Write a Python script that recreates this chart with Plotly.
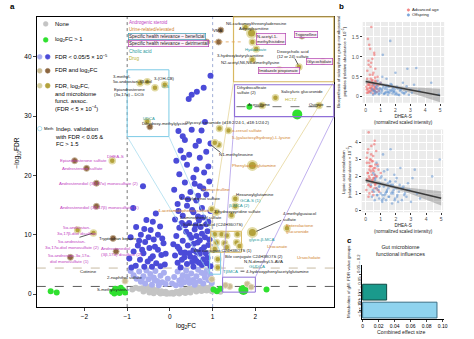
import plotly.graph_objects as go

W, H = 474, 339
FONT = "Liberation Sans, Arial, sans-serif"

# ---------------- Panel a: volcano data (log2FC, -log10 FDR) ----------------
none_pts = [(-0.80,1.1),(-0.72,0.9),(-0.65,1.0),(-0.58,0.7),(-0.52,1.2),(-0.46,0.6),(-0.40,0.9),(-0.35,0.4),
            (-0.30,0.7),(-0.25,0.3),(-0.20,0.5),(-0.15,0.2),(-0.10,0.4),(-0.05,0.15),(0.00,0.1),(0.05,0.25),
            (0.10,0.15),(0.15,0.4),(0.20,0.25),(0.25,0.55),(0.30,0.35),(0.35,0.7),(0.40,0.45),(0.45,0.9),
            (0.50,0.6),(0.55,1.0),(0.60,0.8),(0.65,1.15),(0.70,0.9),(0.75,1.2),(0.80,0.7),(0.85,1.1),
            (0.90,0.9),(0.95,1.2),(-0.62,0.45),(-0.48,0.3),(-0.38,0.15),(-0.22,0.1),(-0.08,0.05),(0.08,0.05),
            (0.22,0.1),(0.36,0.2),(0.48,0.3),(0.62,0.45),(0.74,0.55),(0.86,0.6),(-0.88,0.8),(1.08,0.6),
            (1.18,0.4),(0.98,0.5)]
green_pts = [(-2.79,0.5),(-2.65,0.3),(-1.35,0.4),(-1.28,0.9),(-1.22,0.6),(-1.15,1.1),(-1.10,0.7),(-1.05,0.3),
             (-1.18,0.2),(-1.30,0.1),(1.02,0.8),(1.10,0.5),(1.18,0.9),(2.26,0.8),(1.86,31.6)]
green_big_pts = [(1.72,0.7),(2.98,30.3)]
fdr_light_pts = [(-0.92,3.9),(-0.85,3.2),(-0.78,2.6),(-0.72,3.8),(-0.68,2.1),(-0.62,3.0),(-0.58,1.8),(-0.55,4.0),
                 (-0.50,2.5),(-0.46,3.4),(-0.42,1.6),(-0.38,2.8),(-0.34,3.9),(-0.30,2.2),(-0.26,1.5),(-0.22,3.1),
                 (-0.18,2.0),(-0.14,3.6),(-0.10,1.7),(-0.05,2.6),(0.05,1.8),(0.10,2.9),(0.14,1.5),(0.18,3.8),
                 (0.22,2.3),(0.26,1.6),(0.30,3.2),(0.34,2.0),(0.38,4.0),(0.42,2.7),(0.46,1.9),(0.50,3.5),
                 (0.54,2.4),(0.58,1.6),(0.62,3.0),(0.66,4.1),(0.70,2.2),(0.74,3.6),(0.78,1.8),(0.82,2.8),
                 (0.86,3.9),(0.90,2.4),(0.94,3.3),(0.98,1.9),(0.40,3.0),(0.60,2.0),(0.80,3.4),(-0.66,2.5),
                 (-0.36,2.4),(0.28,2.6)]
fdr_dark_pts = [(0.95,36.8),(0.79,34.8),(0.63,34.1),(0.51,33.6),(0.44,32.9),
                (0.95,25.4),(0.35,26.0),(0.51,27.7),(0.74,27.6),(0.30,26.6),(0.60,25.0),(0.25,24.2),(0.45,23.5),
                (0.70,23.0),(0.85,24.0),(0.15,22.5),(0.40,21.8),(0.62,21.0),(0.80,20.5),(0.22,20.2),(0.55,19.6),
                (0.92,19.0),(0.35,18.8),(0.70,18.2),(0.10,17.6),(0.48,17.2),(0.85,16.8),(0.28,16.4),(0.62,15.8),
                (0.18,15.2),(0.40,14.9),(0.75,14.5),(0.95,14.0),(0.55,13.8),(0.30,13.2),(0.12,12.6),(0.68,12.4),
                (0.45,12.0),(0.85,11.8),(0.22,11.2),(0.58,10.9),(0.38,10.5),(0.75,10.2),(0.15,9.8),(0.50,9.5),
                (0.92,9.2),(0.30,9.0),(0.65,8.7),(0.08,8.4),(0.42,8.2),(0.80,7.9),(0.22,7.6),(0.55,7.4),
                (0.35,7.0),(0.70,6.8),(0.12,6.5),(0.48,6.3),(0.88,6.1),(0.28,5.8),(0.62,5.6),(0.18,5.3),
                (0.40,5.1),(0.75,4.9),(0.55,4.6),(0.95,4.7),(0.25,4.5),
                (0.52,14.2),(0.66,13.1),(0.78,12.9),(0.90,12.2),(0.60,11.6),(0.72,11.3),(0.88,10.6),(0.46,10.0),
                (0.62,9.8),(0.82,9.6),(0.70,9.1),(0.56,8.5),(0.90,8.3),(0.74,7.5),(0.62,7.1),(0.84,6.9),
                (0.45,6.9),(0.58,6.1),(0.78,5.9),(0.68,5.3),(0.86,5.2),(0.52,5.4),(0.34,6.2),(0.26,7.0),
                (0.18,8.0),(0.36,11.6),(0.28,12.0),(0.20,14.0),(0.42,16.0),(0.66,16.6),(0.78,17.8),(0.58,18.6),
                (0.90,21.5),(0.32,23.0),(0.68,25.8),(0.82,29.0),(0.20,27.5),
                (-0.63,18.2),(-0.33,13.6),(-0.86,14.5),(-0.79,11.3),(-0.23,11.4),(-0.55,12.5),(-0.45,10.8),
                (-0.68,10.0),(-0.28,10.0),(-0.92,9.6),(-0.38,9.2),(-0.58,8.8),(-0.15,8.6),(-0.75,8.2),
                (-0.48,7.8),(-0.28,7.5),(-0.85,7.2),(-0.62,6.9),(-0.20,6.6),(-0.40,6.4),(-0.95,6.0),
                (-0.70,5.8),(-0.52,5.5),(-0.32,5.2),(-0.12,5.0),(-0.80,4.8),(-0.60,4.6),(-0.42,4.6),
                (-0.22,4.7),(-0.90,4.5),(-0.50,9.6),(-0.35,8.0),(-0.65,7.5),(-0.45,6.0),(-0.10,6.8),
                (-0.72,9.0),(-0.18,9.4),(-0.60,11.0),(-0.40,12.2)]
fc_light_pts = [(-1.05,2.2),(0.98,2.5),(1.40,1.3),(1.81,1.7),(1.30,1.5),(1.90,1.2)]
fc_dark_pts = [(-2.23,22.5),(-1.95,21.2),(-1.72,18.7),(-1.72,14.8),(-1.26,7.2),(-2.33,6.2),(-1.33,9.4),
               (3.09,43.5),(3.58,39.2),(1.14,42.5),(0.86,42.5),(1.19,44.5),(-0.47,28.2)]
micro_pts = [(-1.35,22.5),(-2.16,10.8),(-1.79,10.3),
             (1.16,27.9),(1.37,27.6),(1.14,25.2),(1.05,25.5),(1.53,16.1),(1.53,14.8),(1.09,13.8),(0.98,14.3),
             (1.44,13.3),(1.05,10.1),(1.21,10.1),(1.33,9.9),(1.58,10.1),(1.09,8.7),(1.28,8.6),(1.56,8.7),
             (1.05,7.6),(1.33,7.9),(1.63,8.1),(1.12,5.9),(1.12,4.5),(2.74,11.1),
             (1.77,45.0),(1.93,42.5),(1.93,39.5),(2.56,37.8),(3.02,38.3),(2.02,41.3),
             (-0.53,35.8),(-0.35,34.8),(-0.12,35.3),(-0.70,35.6),(-0.53,29.1),(2.16,31.8),(3.49,31.8),(2.47,33.1)]
micro_big_pts = [(1.93,21.7),(1.93,10.4),(1.91,44.0)]

# ---------------- Panel b: DHEA-S vs pathway abundances ----------------
adv_dhea = [0.05,0.08,0.10,0.12,0.15,0.18,0.20,0.22,0.25,0.28,0.30,0.32,0.35,0.38,0.40,0.42,0.45,0.48,0.50,0.52,
            0.55,0.58,0.60,0.62,0.65,0.68,0.70,0.75,0.80,0.85,0.07,0.11,0.14,0.17,0.21,0.24,0.27,0.31,0.34,0.37,
            0.41,0.44,0.47,0.51,0.54,0.57,0.61,0.64,0.67,0.72,0.78,0.90,1.00,0.33,0.46,0.26,0.19,0.56,0.39,0.63]
adv_sidero = [0.25,0.10,0.45,0.20,1.45,0.15,0.80,0.30,0.12,0.55,1.20,0.22,0.35,1.75,0.18,0.40,0.95,0.28,0.08,0.60,
              0.32,1.05,0.15,0.25,0.70,0.20,0.38,0.12,0.50,0.28,0.18,0.65,0.30,0.10,0.35,1.30,0.22,0.14,0.45,0.85,
              0.26,0.16,0.55,0.33,0.19,1.10,0.24,0.40,0.12,0.30,0.20,0.15,0.35,0.75,0.42,0.28,0.90,0.18,0.22,0.48]
adv_lipoic = [1.2,2.8,1.8,3.4,2.2,1.5,4.6,2.0,1.0,2.6,3.0,1.4,2.3,3.8,1.7,2.9,1.1,2.4,3.2,1.9,
              2.5,1.3,4.1,2.1,2.7,1.6,3.5,2.0,1.2,2.4,3.1,1.8,2.2,3.6,1.5,2.8,1.9,2.6,1.4,3.3,
              2.1,1.7,2.9,0.9,2.3,3.9,1.6,2.5,2.0,1.3,2.7,1.1,2.2,3.0,1.8,2.4,0.8,1.9,2.6,1.5]
off_dhea = [0.35,0.42,0.50,0.55,0.60,0.65,0.70,0.75,0.80,0.85,0.90,0.95,1.00,1.05,1.10,1.15,1.20,1.25,1.30,1.35,
            1.40,1.45,1.50,1.55,1.60,1.65,1.70,1.75,1.80,1.85,1.90,1.95,2.00,2.05,2.10,2.20,2.30,2.40,2.50,2.60,
            2.70,2.80,2.90,3.00,3.10,3.25,3.40,3.60,4.40,4.90,0.48,0.62,0.78,0.92,1.08,1.22,1.38,1.52,1.68,1.82,
            1.98,2.15,2.35,2.55,2.75,0.58,0.88,1.18,1.48,1.78,2.08,2.45,1.12,1.62,0.72,1.32,1.92,2.25,0.98,1.42]
off_sidero = [0.10,0.20,0.05,0.30,0.15,0.08,0.25,0.12,0.40,0.18,0.06,0.22,0.35,0.10,0.15,1.05,0.28,0.08,0.20,0.12,
              0.45,0.18,0.05,0.25,0.10,1.40,0.15,0.30,0.08,0.22,0.12,0.18,0.60,0.10,0.25,0.05,0.15,0.20,0.35,0.08,
              0.12,0.70,0.05,0.18,0.10,0.30,0.72,0.15,0.35,0.05,0.16,0.09,0.27,0.13,0.19,0.07,0.24,0.11,0.32,0.14,
              0.06,0.21,0.17,0.09,0.26,0.14,0.08,0.23,0.12,0.18,0.06,0.11,0.50,0.16,0.21,0.09,0.13,0.04,0.19,0.28]
off_lipoic = [1.5,0.8,2.2,1.1,0.6,1.9,1.3,0.9,2.6,1.2,0.7,1.6,1.0,2.0,0.5,3.3,1.4,0.9,1.8,0.6,
              1.1,2.4,1.3,0.8,1.7,3.6,1.0,0.4,1.5,1.2,2.1,0.7,1.3,1.9,0.9,1.1,2.5,0.6,1.4,1.0,
              0.8,1.6,1.2,0.5,1.9,2.4,1.0,0.7,2.0,3.0,1.2,1.8,0.9,1.4,0.6,2.3,1.1,0.8,1.5,1.0,
              1.7,0.5,1.3,0.9,1.2,2.1,1.4,0.7,1.6,1.1,0.8,1.3,0.9,1.7,2.8,1.0,0.6,1.5,1.9,1.2]
fit_x = [0, 1, 2, 3, 4, 5]
fit1_y = [0.38, 0.31, 0.24, 0.17, 0.10, 0.03]
fit1_lo = [0.32, 0.27, 0.20, 0.10, -0.02, -0.14]
fit1_hi = [0.44, 0.35, 0.28, 0.24, 0.22, 0.20]
fit2_y = [1.78, 1.57, 1.35, 1.14, 0.92, 0.71]
fit2_lo = [1.63, 1.47, 1.25, 0.96, 0.62, 0.29]
fit2_hi = [1.93, 1.67, 1.45, 1.32, 1.22, 1.13]

# ---------------- Panel c ----------------
c_groups = ["< 5 × 10⁻⁴", "5 × 10⁻⁴ – 0.05", "0.05 – 0.2"]
c_effect = [0.093, 0.030, None]

# ---------------- helpers ----------------
def xs(p): return [a for a, b in p]
def ys(p): return [b for a, b in p]
def P(px, py): return px / W, 1 - py / H

fig = go.Figure()

def pts(p, color, size, line=None, opacity=1.0):
    fig.add_trace(go.Scatter(x=xs(p), y=ys(p), mode="markers", xaxis="x", yaxis="y",
                             marker=dict(color=color, size=size, opacity=opacity,
                                         line=line or dict(width=0)),
                             hoverinfo="skip", showlegend=False))

pts(none_pts, "#c4c4c4", 6)
pts(fdr_light_pts, "#a9aef0", 6)
pts(fdr_dark_pts, "#4b4bd8", 6)
pts(green_pts, "#2fe02f", 6)
pts(green_big_pts, "#2fe02f", 10)
pts(fc_light_pts, "#cbbd96", 6, dict(color="#e6dcc0", width=1))
pts(fc_dark_pts, "#8c6640", 6, dict(color="#c8b49a", width=1))
pts(micro_pts, "#b3a23c", 6, dict(color="#e2dba6", width=1.5))
pts(micro_big_pts, "#b3a23c", 9, dict(color="#e2dba6", width=2))

# panel b scatters
for yk, fy, flo, fhi in [("y2", fit1_y, fit1_lo, fit1_hi), ("y3", fit2_y, fit2_lo, fit2_hi)]:
    xk = "x2" if yk == "y2" else "x3"
    fig.add_trace(go.Scatter(x=fit_x, y=fhi, mode="lines", line=dict(width=0), xaxis=xk, yaxis=yk,
                             showlegend=False, hoverinfo="skip"))
    fig.add_trace(go.Scatter(x=fit_x, y=flo, mode="lines", line=dict(width=0), fill="tonexty",
                             fillcolor="rgba(130,130,130,0.45)", xaxis=xk, yaxis=yk,
                             showlegend=False, hoverinfo="skip"))
    adv_y = adv_sidero if yk == "y2" else adv_lipoic
    off_y = off_sidero if yk == "y2" else off_lipoic
    fig.add_trace(go.Scatter(x=adv_dhea, y=adv_y, mode="markers", xaxis=xk, yaxis=yk,
                             marker=dict(color="rgba(240,110,110,0.6)", size=2.6), showlegend=False))
    fig.add_trace(go.Scatter(x=off_dhea, y=off_y, mode="markers", xaxis=xk, yaxis=yk,
                             marker=dict(color="rgba(100,150,210,0.55)", size=2.6), showlegend=False))
    fig.add_trace(go.Scatter(x=fit_x, y=fy, mode="lines", line=dict(color="#3a3a3a", width=1.5),
                             xaxis=xk, yaxis=yk, showlegend=False))

# panel c bars
fig.add_trace(go.Bar(x=c_effect, y=[0, 1, 2], orientation="h", xaxis="x4", yaxis="y4", width=0.88,
                     marker=dict(color=["#8fd3ee", "#1a9a8c", "rgba(0,0,0,0)"],
                                 line=dict(color=["#3b6f86", "#0f4a44", "rgba(0,0,0,0)"], width=1)),
                     showlegend=False))

# ---------------- axes ----------------
def dom(a, b, total): return [a / total, b / total]
ax = dict(showline=True, linecolor="black", linewidth=0.8, ticks="outside", ticklen=3, tickwidth=0.8,
          zeroline=False, showgrid=False, tickfont=dict(size=6.5, family=FONT, color="black"))
gg = dict(showline=False, ticks="outside", ticklen=2, tickwidth=0.6, tickcolor="#333", zeroline=False,
          showgrid=True, gridcolor="white", gridwidth=0.8, tickfont=dict(size=5, family=FONT, color="#4d4d4d"))

fig.update_layout(
    xaxis=dict(ax, domain=dom(37, 336, W), range=[-3.116, 3.837], tickvals=[-2, -1, 0, 1, 2],
               mirror=True, anchor="y"),
    yaxis=dict(ax, domain=[1 - 308 / H, 1 - 17 / H], range=[-2.18, 46.72], tickvals=[0, 10, 20, 30, 40],
               mirror=True, anchor="x"),
    xaxis2=dict(gg, domain=dom(365, 447, W), range=[-0.2, 5.27], tickvals=[0, 1, 2, 3, 4, 5], anchor="y2",
                minor=dict(dtick=0.5, tick0=0, showgrid=True, gridcolor="white", gridwidth=0.4)),
    yaxis2=dict(gg, domain=[1 - 103 / H, 1 - 22 / H], range=[-0.15, 1.875], tickvals=[0, 0.5, 1.0, 1.5],
                ticktext=["0", "0.5", "1.0", "1.5"], anchor="x2",
                minor=dict(dtick=0.25, tick0=0, showgrid=True, gridcolor="white", gridwidth=0.4)),
    xaxis3=dict(gg, domain=dom(364, 446, W), range=[-0.26, 5.13], tickvals=[0, 1, 2, 3, 4, 5], anchor="y3",
                minor=dict(dtick=0.5, tick0=0, showgrid=True, gridcolor="white", gridwidth=0.4)),
    yaxis3=dict(gg, domain=[1 - 213 / H, 1 - 130 / H], range=[-0.12, 4.76], tickvals=[0, 1, 2, 3, 4],
                anchor="x3",
                minor=dict(dtick=0.5, tick0=0, showgrid=True, gridcolor="white", gridwidth=0.4)),
    xaxis4=dict(ax, domain=dom(364, 447, W), range=[-0.0012, 0.102],
                tickvals=[0, 0.02, 0.04, 0.06, 0.08, 0.10],
                ticktext=["0", "0.02", "0.04", "0.06", "0.08", "0.10"], anchor="y4",
                tickfont=dict(size=5, family=FONT, color="black"), ticklen=2),
    yaxis4=dict(ax, domain=[1 - 320 / H, 1 - 266 / H], range=[-0.5, 2.5], tickvals=[0, 1, 2],
                showticklabels=False, anchor="x4", ticklen=2),
    width=W, height=H, margin=dict(l=0, r=0, t=0, b=0),
    paper_bgcolor="white", plot_bgcolor="white", showlegend=False,
    font=dict(family=FONT),
)

# ---------------- shapes ----------------
shapes = []
def rect_px(x0, y0, x1, y1, color, width=1, dash="solid", fill="rgba(0,0,0,0)", layer="above"):
    a, b = P(x0, y0); c, d = P(x1, y1)
    shapes.append(dict(type="rect", xref="paper", yref="paper", x0=a, y0=d, x1=c, y1=b,
                       line=dict(color=color, width=width, dash=dash), fillcolor=fill, layer=layer))
def line_px(x0, y0, x1, y1, color, width=0.8, dash="solid"):
    a, b = P(x0, y0); c, d = P(x1, y1)
    shapes.append(dict(type="line", xref="paper", yref="paper", x0=a, y0=b, x1=c, y1=d,
                       line=dict(color=color, width=width, dash=dash), layer="above"))
def circ_px(cx, cy, r, color, lc=None):
    a, b = P(cx - r, cy - r); c, d = P(cx + r, cy + r)
    shapes.append(dict(type="circle", xref="paper", yref="paper", x0=a, y0=d, x1=c, y1=b,
                       fillcolor=color, line=dict(color=lc or color, width=0.6)))

# ggplot grey backgrounds for panel b
shapes.append(dict(type="rect", xref="x2 domain", yref="y2 domain", x0=0, x1=1, y0=0, y1=1,
                   fillcolor="#ebebeb", line=dict(width=0), layer="below"))
shapes.append(dict(type="rect", xref="x3 domain", yref="y3 domain", x0=0, x1=1, y0=0, y1=1,
                   fillcolor="#ebebeb", line=dict(width=0), layer="below"))

# threshold lines panel a
shapes.append(dict(type="line", xref="x domain", yref="y", x0=0, x1=1, y0=4.4, y1=4.4,
                   line=dict(color="#b8a88a", width=0.8, dash="dash"), layer="below"))
shapes.append(dict(type="line", xref="x domain", yref="y", x0=0, x1=1, y0=1.3, y1=1.3,
                   line=dict(color="#333333", width=0.8, dash="dash"), layer="below"))
shapes.append(dict(type="line", xref="x", yref="y domain", x0=-1, x1=-1, y0=0, y1=1,
                   line=dict(color="#555555", width=0.8, dash="dot"), layer="below"))
shapes.append(dict(type="line", xref="x", yref="y domain", x0=1, x1=1, y0=0, y1=1,
                   line=dict(color="#8899cc", width=0.8, dash="dot"), layer="below"))

# inset boxes and connectors
rect_px(128, 70, 170, 137, "#7ccbe6", 1)
line_px(128, 137, 211, 275, "#9fd9ec", 0.7)
line_px(170, 137, 222, 253, "#9fd9ec", 0.7)
rect_px(211, 253, 222, 275, "#7ccbe6", 1)
rect_px(235, 17, 336, 82, "#d8b860", 1.2)
line_px(235, 82, 212, 232, "#e3d08c", 0.7)
line_px(336, 82, 243, 232, "#e3d08c", 0.7)
rect_px(212, 232, 243, 253, "#d8b860", 1)
rect_px(236, 85, 336, 117, "#8f6fd8", 1.2)
line_px(236, 117, 224, 278, "#a58ee6", 0.7)
line_px(336, 117, 257, 278, "#a58ee6", 0.7)
rect_px(224, 278, 257, 293, "#8f6fd8", 1)
line_px(238, 107, 333, 107, "#333333", 0.7, "dash")
line_px(203, 42, 245, 42, "#e0a050", 0.8, "dot")
# pointer lines
line_px(297, 59, 300, 65, "#111", 0.7)
line_px(80, 238, 93, 234, "#111", 0.7)
line_px(222, 153, 213, 146, "#111", 0.7)
line_px(283, 221, 258, 232, "#111", 0.7)
line_px(246, 272, 242, 272, "#111", 0.7)

# legend markers panel a
circ_px(46, 24, 2.4, "#c4c4c4")
circ_px(46, 40, 2.4, "#2fe02f")
circ_px(40, 57, 2.4, "#a9aef0"); circ_px(48, 57, 2.4, "#4b4bd8")
circ_px(40, 71, 2.4, "#cbbd96"); circ_px(48, 71, 2.4, "#8c6640")
circ_px(40, 86, 2.4, "#d6d0a0"); circ_px(48, 86, 2.4, "#b3a23c")
circ_px(40, 129, 2.2, "white", "#7ccbe6")
# panel b legend markers
circ_px(411, 10, 1.2, "rgba(240,110,110,0.8)")
circ_px(411, 15, 1.2, "rgba(100,150,210,0.8)")
fig.update_layout(shapes=shapes)

# ---------------- text ----------------
anns = []
def lab(text, px, py, color="#222222", size=4.4, anchor="left", border=None, bold=False, angle=0, yanchor="middle"):
    x, y = P(px, py)
    d = dict(text=("<b>%s</b>" % text) if bold else text, x=x, y=y, xref="paper", yref="paper",
             showarrow=False, xanchor=anchor, yanchor=yanchor, align=anchor if anchor != "center" else "center",
             textangle=angle, borderpad=0, font=dict(size=size, color=color, family=FONT))
    if border:
        d.update(bordercolor=border, borderwidth=0.7, borderpad=0.3, bgcolor="rgba(255,240,250,0.9)")
    anns.append(d)

MAG, ORA, TEA, OLI, BLK = "#c23fc2", "#d0822a", "#2b9a9e", "#b8b030", "#222222"

# panel labels
lab("a", 9, 7, "black", 8, bold=True)
lab("b", 340, 7, "black", 8, bold=True)
lab("c", 348, 241, "black", 8, bold=True)

# axis titles panel a
lab("−log<sub>10</sub>FDR", 17, 153, "black", 6.5, "center", angle=-90)
lab("log<sub>2</sub>FC", 187, 327, "black", 6.5, "center")

# legend text panel a
lab("None", 54, 24, "black", 5.8)
lab("log<sub>2</sub>FC > 1", 54, 40, "black", 5.8)
lab("FDR < 0.05/5 × 10<sup>−5</sup>", 54, 57, "black", 5.8)
lab("FDR and log<sub>2</sub>FC", 54, 71, "black", 5.8)
lab("FDR, log<sub>2</sub>FC,<br>and microbiome<br>funct. assoc.<br>(FDR < 5 × 10<sup>−4</sup>)", 54, 82, "black", 5.8, yanchor="top")
lab("Indep. validation<br>with FDR < 0.05 &<br>FC > 1.5", 54, 125, "black", 5.8, yanchor="top")
lab("Meth", 43, 129, "black", 4.2)

# category key
lab("Androgenic steroid", 129, 23, MAG, 4.6)
lab("Urine-related/elevated", 129, 30, ORA, 4.6)
lab("Specific health relevance – beneficial", 129, 37, BLK, 4.6, border="#3a9ab0")
lab("Specific health relevance – detrimental", 129, 44, BLK, 4.6, border="#b040b0")
lab("Cholic acid", 129, 52, TEA, 4.6)
lab("Drug", 129, 59, OLI, 4.6)

# left labels
lab("Epiandrosterone sulfate", 59, 161, MAG)
lab("Androsterone sulfate", 61, 169, MAG)
lab("DHEA-S", 107, 157, MAG)
lab("Androstenediol (3β,17α) monosulfate (2)", 58, 184, MAG)
lab("Androstenediol (3β,17β) monosulfate (1)", 59, 208, MAG)
lab("5α-androstan-<br>3α,17β-diol disulfate", 77, 231, MAG, anchor="center")
lab("5α-androstan-<br>3α,17α-diol monosulfate (2)", 72, 245, MAG, anchor="center")
lab("Tryptophan betaine", 99, 239, BLK)
lab("Androstenediol<br>(3β,17α) disulfate (2)", 101, 252, MAG)
lab("5α-androstan-3α,17α-<br>diol monosulfate (1)", 70, 259, MAG, anchor="center")
lab("Cotinine", 79, 272, BLK)
lab("2-naphthol sulfate", 107, 278, BLK)
lab("S-methylcysteine", 97, 290, BLK, 4.2)

# light blue inset
lab("3-methyl-<br>5α-androstan-3β-diol", 113, 79, BLK, 4.2)
lab("3-(OH-CB)", 154, 79, BLK, 4.2)
lab("C-5", 162, 87, TEA, 4.2)
lab("Epiandrosterone<br>(3α,17α) – DCG", 114, 92, BLK, 4.2)
lab("UDCA", 143, 119, TEA, 4.2)
lab("Dihydroxy-methylglycine", 142, 124, BLK, 4.2)

# tan inset
lab("N6-carbamoylthreonyladenosine", 226, 24, BLK, 4.2)
lab("VMA", 213, 31, BLK, 4.2)
lab("Adipoylcarnitine", 240, 29, BLK, 4.2)
lab("N-acetyl-1-<br>methylhistidine", 258, 39, BLK, 4.2, border="#b040b0")
lab("Trigonelline", 296, 35, BLK, 4.2, border="#b040b0")
lab("Hydantoate", 246, 50, TEA, 4.2)
lab("3-hydroxybutyrylcarnitine", 217, 56, BLK, 4.2)
lab("N2-acetyl,N6,N6-dimethyllysine", 221, 63, BLK, 4.2)
lab("Deoxycholic acid<br>(12 or 24) sulfate", 295, 54, BLK, 4.2, anchor="center")
lab("Imidazole propionate", 260, 71, BLK, 4.2, border="#b040b0")
lab("Glycocholate", 308, 62, BLK, 4.2, border="#b040b0")

# purple inset
lab("Dihydrocaffeate<br>sulfate (2)", 238, 90, BLK, 4.2)
lab("Salicyluric glucuronide", 282, 92, BLK, 4.2)
lab("HCTZ", 286, 100, OLI, 4.4)
lab("Acesulfame", 249, 105, BLK, 4.2)
lab("Quinate", 310, 105, BLK, 4.2)

# right main labels
lab("Glycosyl ceramide (d18:2/24:1, d18:1/24:2)", 185, 123, BLK)
lab("o-cresol sulfate", 232, 131, ORA)
lab("5-(galactosylhydroxy)-L-lysine", 232, 138, ORA)
lab("N1-methylinosine", 219, 155, BLK)
lab("Phenylacetylglutamine", 232, 166, ORA)
lab("Homocitrulline", 202, 190, ORA)
lab("4-vinylphenol sulfate", 180, 199, BLK)
lab("Hexanoylglutamine", 236, 195, BLK)
lab("GCA-S (1)", 241, 201, TEA)
lab("β-MCA (2)", 229, 206, TEA)
lab("4-acetamidophenol sulfate", 158, 211, ORA)
lab("3-hydroxypyridine sulfate", 214, 212, BLK, 4.2)
lab("2-aminophenol sulfate", 180, 218, BLK, 4.2)
lab("Sulfated bile acid (C24H36O7S)", 183, 225, BLK, 4.2)
lab("4-methylguaiacol<br>sulfate", 284, 217, BLK)
lab("Enterolactone<br>glucuronide", 287, 229, ORA)
lab("glyco-β-MCA", 250, 240, TEA)
lab("Urocanate", 268, 247, ORA)
lab("Bile conjugate C24H38O7S (1)", 194, 251, BLK, 4.2)
lab("Bile conjugate C24H38O7S (2)", 225, 257, BLK, 4.2)
lab("Ursocholate", 298, 258, ORA)
lab("N,N-dimethyl-5-AVA", 245, 262, BLK)
lab("GUDCA", 250, 267, TEA)
lab("TβMCA", 223, 272, TEA)
lab("4-hydroxyphenylacetylglutamine", 247, 272, BLK)

# panel b texts
lab("Advanced age", 414, 10, BLK, 4.2)
lab("Offspring", 414, 15, BLK, 4.2)
lab("Biosynthesis of siderophore group nonribosomal<br>peptides (relative abundance × 10<sup>−5</sup>)",
    344, 62, BLK, 4.3, "center", angle=-90)
lab("DHEA-S<br>(normalized scaled intensity)", 406, 120, BLK, 4.6, "center")
lab("Lipoic acid metabolism<br>(relative abundance × 10<sup>−5</sup>)", 349, 172, BLK, 4.3, "center", angle=-90)
lab("DHEA-S<br>(normalized scaled intensity)", 406, 229, BLK, 4.6, "center")

# panel c texts
lab("Gut microbiome<br>functional influences", 403, 251, BLK, 5.4, "center")
lab("Metabolites of gM. FDR value groups", 350, 282, BLK, 4.4, "center", angle=-90)
lab(c_groups[0], 361, 309, BLK, 4.2, "center", angle=-90)
lab(c_groups[1], 361, 291, BLK, 4.2, "center", angle=-90)
lab(c_groups[2], 361, 264, BLK, 4.2, "center", angle=-90)
lab("Combined effect size", 404, 333, BLK, 5.2, "center")

fig.update_layout(annotations=anns)
fig.write_html("out.html")
